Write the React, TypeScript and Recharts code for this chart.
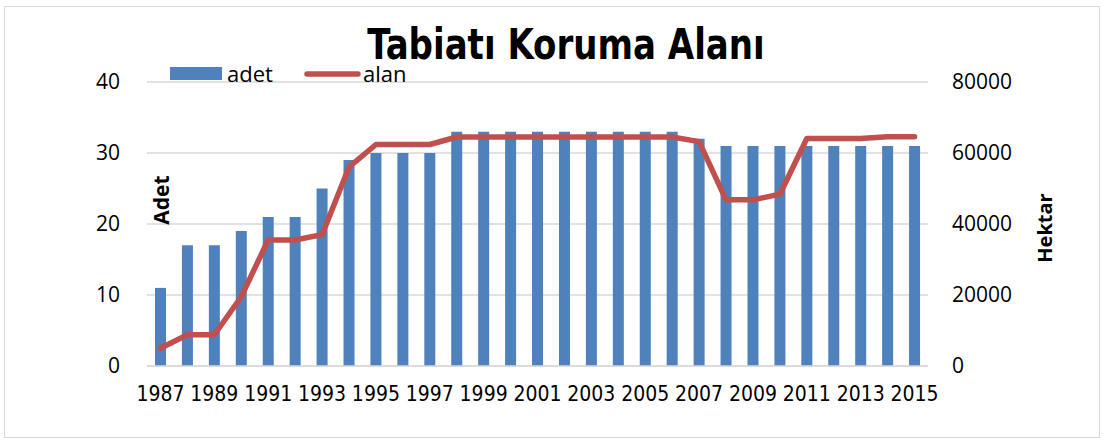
import React from "react";
import { ComposedChart, Bar, Line, XAxis, YAxis, CartesianGrid } from "recharts";

// Tabiatı Koruma Alanı — count (adet) and area (hektar) by year
const years = [
  "1987", "1988", "1989", "1990", "1991", "1992", "1993", "1994", "1995", "1996",
  "1997", "1998", "1999", "2000", "2001", "2002", "2003", "2004", "2005", "2006",
  "2007", "2008", "2009", "2010", "2011", "2012", "2013", "2014", "2015",
];
const adet = [
  11, 17, 17, 19, 21, 21, 25, 29, 30, 30,
  30, 33, 33, 33, 33, 33, 33, 33, 33, 33,
  32, 31, 31, 31, 31, 31, 31, 31, 31,
];
const alan = [
  5000, 8800, 8800, 19500, 35500, 35500, 37000, 56000, 62400, 62400,
  62400, 64500, 64500, 64500, 64500, 64500, 64500, 64500, 64500, 64500,
  63200, 46800, 46800, 48400, 64100, 64100, 64100, 64600, 64600,
];
const leftTicks = [0, 10, 20, 30, 40];
const rightTicks = [0, 20000, 40000, 60000, 80000];

const data = years.map((year, i) => ({ year, adet: adet[i], alan: alan[i] }));

const BLUE = "#4F81BD";
const RED = "#C0504D";
const GRID = "#D9D9D9";
const FONT = "'Open Sans', 'Noto Sans', sans-serif";
const NARROW = "'Liberation Sans Narrow', 'DejaVu Sans Condensed', sans-serif";

export default function App() {
  return (
    <div style={{ position: "absolute", left: 0, top: 0, width: 1105, height: 441, background: "#fff" }}>
      {/* outer frame */}
      <div
        style={{
          position: "absolute", left: 4, top: 6, width: 1096, height: 432,
          border: `1.5px solid ${GRID}`, boxSizing: "border-box",
        }}
      />
      <ComposedChart
        width={1105}
        height={441}
        data={data}
        margin={{ top: 82, right: 0, bottom: 0, left: 0 }}
        barCategoryGap={0}
      >
        <CartesianGrid vertical={false} stroke={GRID} strokeWidth={1.5} yAxisId="left" />
        <XAxis
          dataKey="year"
          height={75}
          interval={1}
          axisLine={{ stroke: GRID, strokeWidth: 1.5 }}
          tickLine={false}
          tickSize={0}
          tickMargin={20}
          tick={{ fill: "#000", fontSize: 21, fontFamily: NARROW }}
        />
        <YAxis
          yAxisId="left"
          width={147}
          domain={[0, 40]}
          ticks={leftTicks}
          axisLine={false}
          tickLine={false}
          tickSize={0}
          tickMargin={27}
          tick={{ fill: "#000", fontSize: 21, fontFamily: FONT }}
        />
        <YAxis
          yAxisId="right"
          orientation="right"
          width={177}
          domain={[0, 80000]}
          ticks={rightTicks}
          axisLine={false}
          tickLine={false}
          tickSize={0}
          tickMargin={24}
          tick={{ fill: "#000", fontSize: 21, fontFamily: FONT }}
        />
        <Bar yAxisId="left" dataKey="adet" fill={BLUE} barSize={11} isAnimationActive={false} />
        <Line
          yAxisId="right"
          dataKey="alan"
          stroke={RED}
          strokeWidth={5.5}
          strokeLinejoin="round"
          strokeLinecap="round"
          dot={false}
          activeDot={false}
          type="linear"
          isAnimationActive={false}
        />
      </ComposedChart>

      {/* title, legend, axis titles */}
      <svg width={1105} height={441} style={{ position: "absolute", left: 0, top: 0, pointerEvents: "none" }}>
        <text
          transform="translate(566,59) scale(0.88,1)"
          textAnchor="middle"
          fontFamily={NARROW}
          fontWeight="bold"
          fontSize={43}
          fill="#000"
        >
          Tabiatı Koruma Alanı
        </text>

        <rect x={170} y={67} width={52} height={13} fill={BLUE} />
        <text x={227} y={82} fontFamily={FONT} fontSize={22} fill="#000">adet</text>
        <line x1={307} y1={74} x2={358} y2={74} stroke={RED} strokeWidth={5.5} strokeLinecap="round" />
        <text x={363} y={82} fontFamily={FONT} fontSize={22} fill="#000">alan</text>

        <text
          transform="translate(169,200) rotate(-90)"
          textAnchor="middle"
          fontFamily={FONT}
          fontWeight="bold"
          fontSize={21}
          fill="#000"
        >
          Adet
        </text>
        <text
          transform="translate(1052,228) rotate(-90)"
          textAnchor="middle"
          fontFamily={FONT}
          fontWeight="bold"
          fontSize={20}
          fill="#000"
        >
          Hektar
        </text>
      </svg>
    </div>
  );
}
